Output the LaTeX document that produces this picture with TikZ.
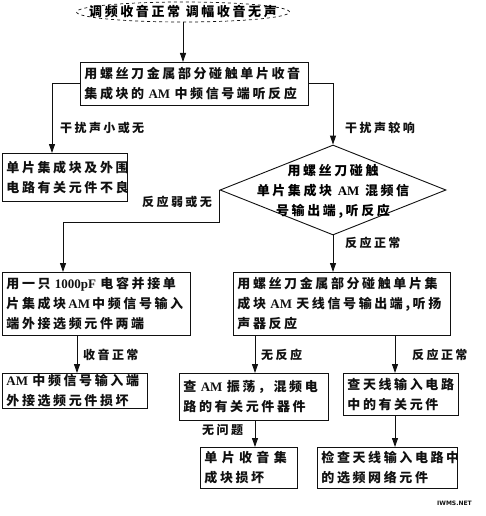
\documentclass[tikz,border=0pt]{standalone}
\usepackage{fontspec}
\setmainfont[LetterSpace=20]{Noto Sans CJK SC}
\newfontfamily\latin{Liberation Serif}
\newfontfamily\marksans{DejaVu Sans}
\usetikzlibrary{shapes.geometric,arrows.meta}

\definecolor{flowInk}{RGB}{17,17,17}
\definecolor{flowPaper}{RGB}{255,255,255}

\begin{document}
\begin{tikzpicture}[x=1pt,y=-1pt,
      box/.style={draw=flowInk, line width=.9pt, anchor=north west,
        inner xsep=4pt, inner ysep=0pt, align=left, text=flowInk,
        font=\fontsize{13}{20}\selectfont\bfseries},
      cond/.style={font=\fontsize{12}{14}\selectfont\bfseries,
        text=flowInk, anchor=west, inner sep=0pt},
      flow/.style={draw=flowInk, line width=.9pt,
        -{Triangle[width=6pt,length=9pt]}}]
      \useasboundingbox (0,0) rectangle (486,516);
      \fill[flowPaper] (0,0) rectangle (486,516);

      \node[draw=flowInk, dashed, line width=.7pt, ellipse, inner sep=0pt,
        minimum width=213pt, minimum height=20pt] (start) at (183,12) {};
      \node[font=\fontsize{13}{14}\selectfont\bfseries, inner sep=0pt]
        (startText) at (start) {调频收音正常 调幅收音无声};

      \node[box, text width=220pt, minimum height=43pt] (touchIF) at (80,62)
        {用螺丝刀金属部分碰触单片收音\\集成块的 {\latin AM} 中频信号端听反应};
      \node[box, text width=117pt, minimum height=48pt] (peripheral) at (2,153)
        {单片集成块及外围\\电路有关元件不良};

      % decision on the mixer output
      \node[draw=flowInk, line width=.9pt, diamond, inner sep=0pt,
        minimum width=226pt, minimum height=90pt] (mixer) at (333,190) {};
      \node[font=\fontsize{13}{20}\selectfont\bfseries, align=center,
        inner sep=0pt] (mixerText) at (333,191)
        {用螺丝刀碰触\\单片集成块 {\latin AM} 混频信\\号输出端,听反应};

      \node[box, text width=180pt, minimum height=63pt] (cap1000) at (2,272)
        {用一只 {\latin 1000pF} 电容并接单\\\mbox{片集成块\,{\latin AM}\,中频信号输入}\\端外接选频元件两端};
      \node[box, text width=137pt, minimum height=35pt] (ifInput) at (2,373)
        {{\latin AM} 中频信号输入端\\外接选频元件损坏};

      \node[box, text width=209pt, minimum height=63pt] (antenna) at (233,272)
        {用螺丝刀金属部分碰触单片集\\成块 {\latin AM} 天线信号输出端,听扬\\声器反应};
      \node[box, text width=141pt, minimum height=47pt] (osc) at (179,373)
        {查 {\latin AM} 振荡，混频电\\路的有关元件器件};
      \node[box, text width=107pt, minimum height=42pt] (antInput) at (343,373)
        {查天线输入电路\\中的有关元件};
      \node[box, text width=89pt, minimum height=41pt] (chipBad) at (200,447)
        {单 片 收 音 集\\成块损坏};
      \node[box, text width=132pt, minimum height=41pt] (antFilter) at (317,447)
        {检查天线输入电路中\\的选频网络元件};

      \draw[flow] (start.south) -- (start.south |- touchIF.north);
      \draw[flow] (touchIF.west) -| (52,0 |- peripheral.north);
      \draw[flow] (touchIF.east) -| (mixer.north);
      \coordinate (bendL) at (63,222);
      \draw[flow] (mixer.west) |- (bendL) -- (bendL |- cap1000.north);
      \draw[flow] (77,0 |- cap1000.south) -- (77,0 |- ifInput.north);
      \draw[flow] (mixer.south) -- (mixer.south |- antenna.north);
      \draw[flow] (255,0 |- antenna.south) -- (255,0 |- osc.north);
      \draw[flow] (395,0 |- antenna.south) -- (395,0 |- antInput.north);
      \draw[flow] (255,0 |- osc.south) -- (255,0 |- chipBad.north);
      \draw[flow] (395,0 |- antInput.south) -- (395,0 |- antFilter.north);

      \node[cond] (quietLbl) at (60,128) {干扰声小或无};
      \node[cond] (loudLbl) at (345,128) {干扰声较响};
      \node[cond] (weakLbl) at (142,202) {反应弱或无};
      \node[cond] (normalLbl) at (345,243) {反应正常};
      \node[cond] (recvLbl) at (83,355) {收音正常};
      \node[cond] (noneLbl) at (261,355) {无反应};
      \node[cond] (okLbl) at (412,355) {反应正常};
      \node[cond] (fineLbl) at (202,430) {无问题};

      \node[font=\fontsize{6}{7}\selectfont\marksans\bfseries, text=flowInk,
        anchor=east, inner sep=0pt] (mark) at (472,503) {IWMS.NET};
    \end{tikzpicture}
\end{document}
